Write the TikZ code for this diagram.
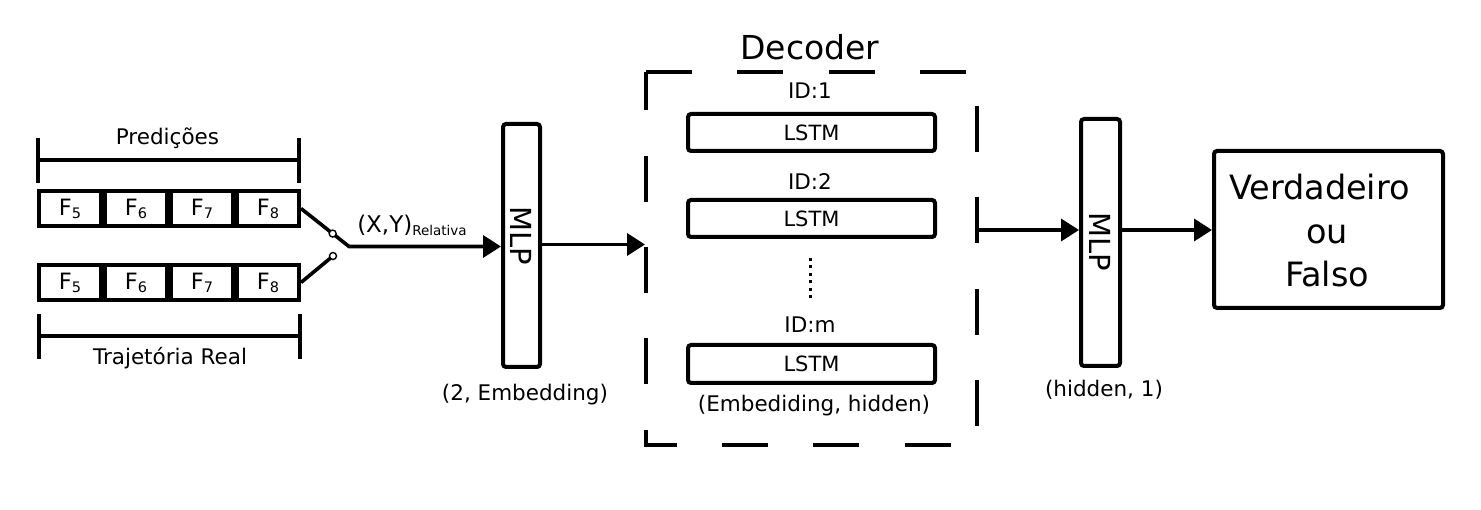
\documentclass[tikz,border=0pt]{standalone}
\usepackage{fontspec}
\setmainfont{DejaVu Sans}
\usetikzlibrary{arrows.meta,calc}
\newcommand{\fsz}[1]{\fontsize{#1}{#1}\selectfont}
\newcommand{\Fr}[1]{F\raisebox{-3pt}{\fontsize{14.5}{14.5}\selectfont #1}}
\begin{document}
\begin{tikzpicture}[x=1pt,y=-1pt,
  cell/.style={draw, line width=4.3pt, minimum width=61.7pt, minimum height=34.7pt, inner sep=0pt, font=\fsz{22.5}},
  blk/.style={draw, line width=4pt, rounded corners=3pt, inner sep=0pt},
  conn/.style={line width=3.6pt, -{Triangle[length=18pt,width=22pt]}},
  lbl/.style={font=\fsz{21.5}, inner sep=0pt, anchor=base},
  brk/.style={line width=4pt},
  pin/.style={circle, draw, fill=white, line width=1.4pt, minimum size=7pt, inner sep=0pt},
  frame/.style={line width=3.3pt, dash pattern=on 46pt off 45.3pt}
]
\useasboundingbox (0,0) rectangle (1481,510);

% frames
\foreach \i/\xx in {5/70,6/136,7/202,8/268}{
  \node[cell] (t\i) at (\xx,208.5) {\Fr{\i}};
  \node[cell] (b\i) at (\xx,282.5) {\Fr{\i}};
}

% brackets
\draw[brk] (37.5,138) -- (37.5,183);
\draw[brk] (298.5,138) -- (298.5,183);
\draw[brk] (37.5,160) -- (298.5,160);
\draw[brk] (39,314) -- (39,359);
\draw[brk] (300,314) -- (300,359);
\draw[brk] (39,336) -- (300,336);
\node[lbl] (pred) at (167.5,145) {Predições};
\node[lbl] (traj) at (170,365) {Trajetória Real};

% MLP 1
\node[blk, minimum width=37pt, minimum height=243pt] (mlp1) at (521.5,245.5) {};
\node[font=\fsz{29}, rotate=-90] (mlp1t) at (521.5,236) {MLP};
\node[lbl] (emb) at (525,401) {(2, Embedding)};

% switch
\coordinate (sw) at (349,246.5);
\draw[conn] (t8.east) -- (sw) -- (mlp1.west |- sw);
\coordinate (p2) at (333,256);
\draw[line width=3.6pt] (b8.east) -- (p2);
\node[pin] (pin1) at ($(t8.east)!0.66!(sw)$) {};
\node[pin] (pin2) at (p2) {};
\node[anchor=base, inner sep=0pt, font=\fsz{23}] (xy) at (412,233) {(X,Y)\raisebox{-3pt}{\fsz{13.5}Relativa}};

% decoder
\coordinate (dtl) at (646,72);
\coordinate (dtr) at (977,72);
\coordinate (dbr) at (977,445);
\coordinate (dbl) at (646,445);
\draw[frame] (dtl) -- (dtr) -- (dbr) -- (dbl) -- cycle;
\node[anchor=base, inner sep=0pt, font=\fsz{33}] (dec) at (810,60) {Decoder};
\node[lbl] (id1) at (810,99) {ID:1};
\node[blk, minimum width=247pt, minimum height=37pt, font=\fsz{21}] (l1) at (811.5,132.5) {LSTM};
\node[lbl] (id2) at (810,190) {ID:2};
\node[blk, minimum width=247pt, minimum height=37pt, font=\fsz{21}] (l2) at (811.5,218.5) {LSTM};
\coordinate (dA) at (810,258);
\coordinate (dB) at (810,298);
\draw[line width=3pt, dash pattern=on 3pt off 4.5pt] (dA) -- (dB);
\node[lbl] (idm) at (810,333) {ID:m};
\node[blk, minimum width=247pt, minimum height=38pt, font=\fsz{21}] (l3) at (811.5,364) {LSTM};
\node[lbl] (eh) at (814,412) {(Embediding, hidden)};

\coordinate (din) at (645,244.5);
\draw[conn] (mlp1.east |- din) -- (din);

% MLP 2
\node[blk, minimum width=39pt, minimum height=247pt] (mlp2) at (1100.5,242.5) {};
\node[font=\fsz{29}, rotate=-90] (mlp2t) at (1100.5,241.5) {MLP};
\node[lbl] (hid) at (1104,397) {(hidden, 1)};

% output
\node[blk, minimum width=229pt, minimum height=157pt] (out) at (1328.5,229.5) {};
\node[font={\fontsize{33.5}{43.5}\selectfont}, align=center, inner sep=0pt] (outt) at (1327,231) {Verdadeiro\hspace*{15pt}\\ou\\Falso};

\coordinate (dout) at (977,230);
\draw[conn] (dout) -- (dout -| mlp2.west);
\draw[conn] (dout -| mlp2.east) -- (dout -| out.west);
\end{tikzpicture}
\end{document}
